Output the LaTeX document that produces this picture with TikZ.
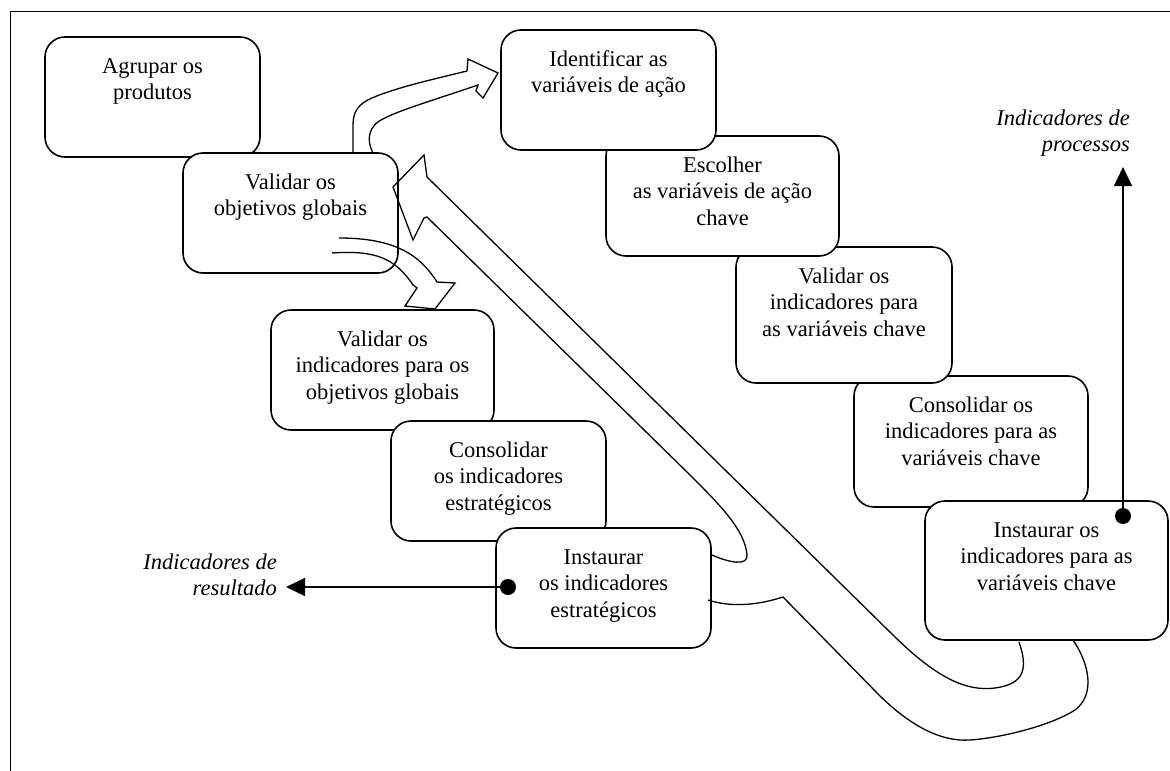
\documentclass[tikz,border=0pt]{standalone}
\usepackage{fontspec}
\setmainfont{Liberation Serif}
\usetikzlibrary{arrows.meta}

% text block of a step: fixed size, lines centred and hung from the top
\newcommand{\steptext}[3]{\begin{minipage}[c][#2][t]{#1}\centering
  \fontsize{22.5pt}{26.5pt}\selectfont\rule{0pt}{36pt}#3\end{minipage}}

\tikzset{
  stepbox/.style={draw, fill=white, rounded corners=20pt, line width=1.6pt,
    inner sep=0pt, outer sep=0pt, anchor=north west},
  blockarrow/.style={draw, line width=1.3pt, line join=miter},
  outlbl/.style={font=\fontsize{22.5pt}{26.5pt}\selectfont\itshape,
    align=right, inner sep=0pt, anchor=east},
  outdot/.style={circle, fill=black, minimum size=16pt, inner sep=0pt},
  outarrow/.style={line width=1.4pt, -{Triangle[length=19pt,width=18pt]}}
}

\begin{document}
\begin{tikzpicture}[x=1pt, y=-1pt]
\useasboundingbox (0,0) rectangle (1170,771);
\fill[white] (0,0) rectangle (1170,771);

% frame
\draw[line width=1.8pt] (1170,11.5) -- (10.5,11.5) -- (10.5,771);

% left column of steps
\node[stepbox] (agr)  at (45,37)   {\steptext{215pt}{120pt}{Agrupar os\\produtos}};
\node[stepbox] (vobj) at (183,153) {\steptext{215pt}{120pt}{Validar os\\objetivos globais}};
\node[stepbox] (viob) at (271,310) {\steptext{223pt}{120pt}{Validar os\\indicadores para os\\objetivos globais}};
\node[stepbox] (cest) at (391,421) {\steptext{215pt}{120pt}{Consolidar\\os indicadores\\estratégicos}};
\node[stepbox] (iest) at (496,528) {\steptext{215pt}{120pt}{Instaurar\\os indicadores\\estratégicos}};

% right column of steps
\node[stepbox] (cvar) at (854,376) {\steptext{234pt}{131pt}{Consolidar os\\indicadores para as\\variáveis chave}};
\node[stepbox] (ivar) at (925,501) {\steptext{243pt}{139pt}{Instaurar os\\indicadores para as\\variáveis chave}};
\node[stepbox] (vvar) at (736,247) {\steptext{216pt}{136pt}{Validar os\\indicadores para\\as variáveis chave}};
\node[stepbox] (esc)  at (606,136) {\steptext{233pt}{120pt}{Escolher\\as variáveis de ação\\chave}};
\node[stepbox] (idv)  at (501,30)  {\steptext{215pt}{120pt}{Identificar as\\variáveis de ação}};

% curved block arrow towards the action variables
\draw[blockarrow] (373,153) .. controls (366,140) and (368,125) .. (385,118)
  .. controls (400,110) and (440,98) .. (478,85)
  -- (476,91) -- (483,98) -- (498,73) -- (468,59) -- (467,71)
  .. controls (430,80) and (395,88) .. (372,98)
  .. controls (358,104) and (353,112) .. (353,125) -- (353,153);

% curved block arrow towards the indicators of the global objectives
\draw[blockarrow] (339,238) .. controls (395,238) and (420,255) .. (437,282)
  -- (455,283) -- (435,309) -- (405,306) -- (417,288) -- (413,285)
  .. controls (395,258) and (375,250) .. (332,253);

% return arrow back to the global objectives
\draw[blockarrow] (1019,642) .. controls (1028,668) and (1025,684) .. (995,688)
  .. controls (965,692) and (935,676) .. (895,637)
  -- (427,177) -- (424,155) -- (393,187) -- (413,240) -- (424,218) -- (427,217)
  -- (690,475) .. controls (720,505) and (745,530) .. (747,555)
  .. controls (748,566) and (730,563) .. (712,555);
\draw[blockarrow] (708,600) .. controls (730,607) and (755,606) .. (783,597)
  -- (880,696) .. controls (910,725) and (940,742) .. (970,740)
  .. controls (1000,738) and (1050,726) .. (1075,710)
  .. controls (1095,695) and (1090,665) .. (1073,640);

% outputs
\node[outlbl] (reslbl) at (277,575) {Indicadores de\\resultado};
\node[outlbl] (prolbl) at (1130,133) {Indicadores de\\processos};
\coordinate (restip) at (286,587);
\coordinate (protip) at (1123,167);
\node[outdot] (resdot) at (508,587) {};
\node[outdot] (prodot) at (1123,516) {};
\draw[outarrow] (resdot.center) -- (restip);
\draw[outarrow] (prodot.center) -- (protip);
\end{tikzpicture}
\end{document}
